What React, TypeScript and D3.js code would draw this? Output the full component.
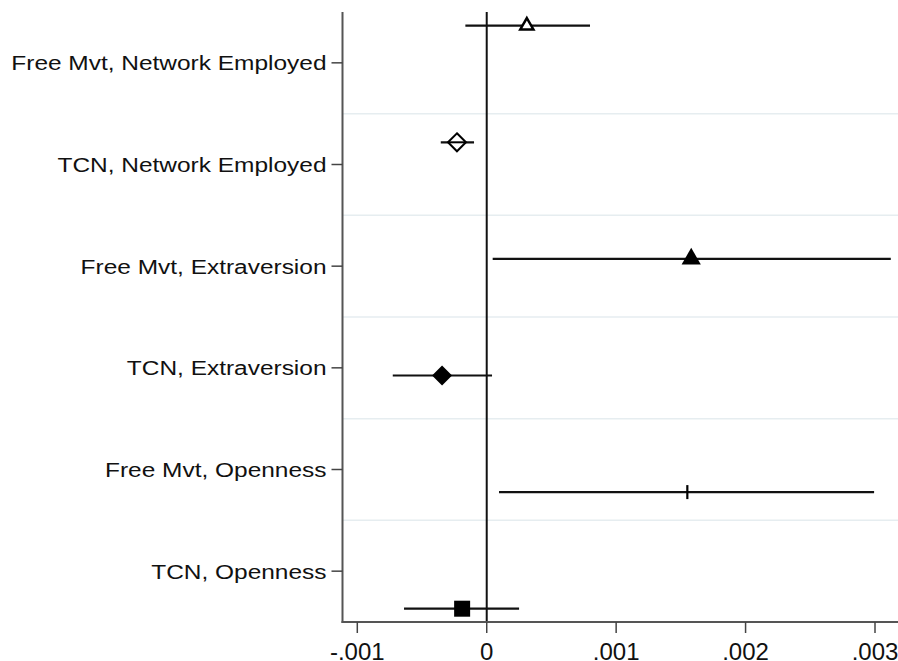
import React from "react";
import * as d3 from "d3";

// coefficient plot data
const labels = [
  "Free Mvt, Network Employed",
  "TCN, Network Employed",
  "Free Mvt, Extraversion",
  "TCN, Extraversion",
  "Free Mvt, Openness",
  "TCN, Openness",
];
const estimates = [0.00031, -0.00023, 0.00158, -0.000345, 0.00155, -0.00019];
const lower = [-0.000165, -0.000355, 0.000046, -0.000726, 0.000095, -0.000639];
const upper = [0.000798, -0.000098, 0.003122, 0.000041, 0.002993, 0.00025];
const markers = ["triangleOpen", "diamondOpen", "triangle", "diamond", "pipe", "square"];
const xTicks = [-0.001, 0, 0.001, 0.002, 0.003];
const xTickLabels = ["-.001", "0", ".001", ".002", ".003"];

const W = 898;
const H = 661;
const left = 342.5;
const top = 12;
const bottom = 622;
const font = "'Liberation Sans', Arial, Helvetica, sans-serif";

const Marker = ({ kind, x, y }: { kind: string; x: number; y: number }) => {
  const t = `translate(${x},${y})`;
  if (kind === "triangle")
    return <path transform={t} d={d3.symbol(d3.symbolTriangle, 160)()!} fill="#000" />;
  if (kind === "triangleOpen")
    return (
      <path
        transform={t}
        d={d3.symbol(d3.symbolTriangle, 75)()!}
        fill="#fff"
        stroke="#000"
        strokeWidth={2.5}
      />
    );
  if (kind === "diamond")
    return <path transform={t} d="M0,-10L10,0L0,10L-10,0Z" fill="#000" />;
  if (kind === "diamondOpen")
    return (
      <g transform={t}>
        <path d="M0,-9L9,0L0,9L-9,0Z" fill="#fff" stroke="#000" strokeWidth={2} />
        <line x1={-9} x2={9} stroke="#000" strokeWidth={2} />
      </g>
    );
  if (kind === "square") return <rect transform={t} x={-8} y={-8} width={16} height={16} fill="#000" />;
  return <line transform={t} y1={-7} y2={7} stroke="#000" strokeWidth={2.2} />;
};

const App = () => {
  const x = d3.scaleLinear().domain([-0.001, 0.003]).range([357.3, 875]);
  const yLab = d3.scaleBand().domain(labels).range([top, bottom]);
  const yPt = d3.scalePoint().domain(labels).range([25.7, 608.7]);
  const grid = labels.slice(1).map((l) => yLab(l)!);

  return (
    <svg
      width={W}
      height={H}
      style={{ position: "absolute", left: 0, top: 0, background: "#fff" }}
    >
      {/* gridlines between categories */}
      {grid.map((g, i) => (
        <line key={i} x1={left} x2={W} y1={g} y2={g} stroke="#e6edf0" strokeWidth={1.5} />
      ))}

      {/* zero reference line */}
      <line x1={x(0)} x2={x(0)} y1={top} y2={bottom} stroke="#111" strokeWidth={2} />

      {/* y axis */}
      <line x1={left} x2={left} y1={top} y2={bottom + 1} stroke="#555" strokeWidth={2} />
      {labels.map((l) => {
        const yy = yLab(l)! + yLab.bandwidth() / 2;
        return (
          <g key={l}>
            <line x1={left - 11} x2={left} y1={yy} y2={yy} stroke="#444" strokeWidth={1.5} />
            <text
              transform={`translate(${left - 16},${yy}) scale(1.165,1)`}
              dy="0.35em"
              textAnchor="end"
              fontFamily={font}
              fontSize={21}
              fill="#111"
            >
              {l}
            </text>
          </g>
        );
      })}

      {/* x axis */}
      <line x1={left - 1} x2={W} y1={bottom} y2={bottom} stroke="#555" strokeWidth={2} />
      {xTicks.map((t, i) => (
        <g key={t}>
          <line x1={x(t)} x2={x(t)} y1={bottom} y2={bottom + 11} stroke="#444" strokeWidth={1.5} />
          <text
            x={x(t)}
            y={660}
            textAnchor="middle"
            fontFamily={font}
            fontSize={24}
            fill="#111"
          >
            {xTickLabels[i]}
          </text>
        </g>
      ))}

      {/* confidence intervals and point estimates */}
      {labels.map((l, i) => {
        const yy = yPt(l)!;
        return (
          <g key={l}>
            <line
              x1={x(lower[i])}
              x2={x(upper[i])}
              y1={yy}
              y2={yy}
              stroke="#111"
              strokeWidth={2.2}
            />
            <Marker kind={markers[i]} x={x(estimates[i])} y={yy} />
          </g>
        );
      })}
    </svg>
  );
};

export default App;
